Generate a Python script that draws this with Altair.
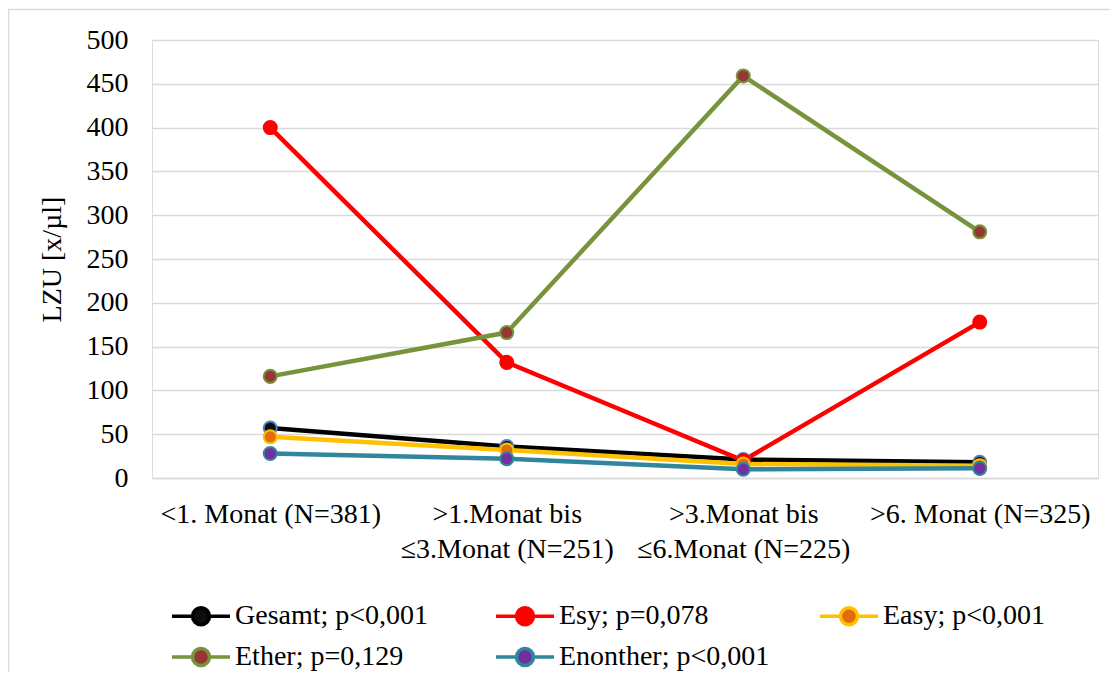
import altair as alt
import pandas as pd

categories = ["<1. Monat (N=381)", ">1.Monat bis|≤3.Monat (N=251)",
              ">3.Monat bis|≤6.Monat (N=225)", ">6. Monat (N=325)"]
series = ["Gesamt; p<0,001", "Esy; p=0,078", "Easy; p<0,001",
          "Ether; p=0,129", "Enonther; p<0,001"]
gesamt = [57, 36, 21, 18]
esy = [400, 132, 20, 178]
easy = [47, 32, 16, 14]
ether = [116, 166, 459, 281]
enonther = [28, 22, 10, 11]
y_ticks = list(range(0, 501, 50))

line_colors = ["#000000", "#FF0000", "#FFC000", "#77933C", "#31859C"]
marker_fills = ["#0D0D0D", "#FF0000", "#E36C09", "#953735", "#7030A0"]

rows = []
for s, vals in zip(series, [gesamt, esy, easy, ether, enonther]):
    for c, v in zip(categories, vals):
        rows.append({"series": s, "cat": c, "value": v})
df = pd.DataFrame(rows)

FONT = "Liberation Serif"
W, H = 946, 438

sym_path = ("M-2.9,0L-0.85,0M0.85,0L2.9,0M-0.85,0"
            "A0.85,0.85,0,1,1,0.85,0A0.85,0.85,0,1,1,-0.85,0Z")

legend = alt.Legend(
    title=None, orient="none", legendX=35, legendY=562,
    direction="horizontal", columns=3, gridAlign="all",
    symbolType=sym_path, symbolSize=400, symbolStrokeWidth=3.5,
    labelFont=FONT, labelFontSize=28, labelColor="black",
    labelOffset=20, columnPadding=43, rowPadding=9, labelLimit=400,
)

x_enc = alt.X("cat:N", sort=categories, title=None,
              scale=alt.Scale(type="point", padding=0.5),
              axis=alt.Axis(labelExpr="split(datum.label, '|')",
                            labelAngle=0, labelFont=FONT, labelFontSize=28,
                            labelColor="black", labelLimit=400,
                            labelLineHeight=35, labelPadding=22,
                            labelOverlap=False, ticks=False,
                            domainColor="#d9d9d9", domainWidth=1.5,
                            grid=False))
y_enc = alt.Y("value:Q", title="LZU [x/µl]",
              scale=alt.Scale(domain=[0, 500], nice=False),
              axis=alt.Axis(values=y_ticks, labelFont=FONT, labelFontSize=28,
                            labelColor="black", labelPadding=24, ticks=False,
                            domain=False, gridColor="#d9d9d9", gridWidth=1.5,
                            titleFont=FONT, titleFontSize=28,
                            titleFontWeight="normal", titleColor="black",
                            titlePadding=20))

stroke_scale = alt.Scale(domain=series, range=line_colors)
fill_scale = alt.Scale(domain=series, range=marker_fills)

base = alt.Chart(df)
lines = base.mark_line(strokeWidth=4.5).encode(
    x=x_enc, y=y_enc,
    stroke=alt.Stroke("series:N", scale=stroke_scale, sort=series, legend=legend),
    detail="series:N",
)
points = base.mark_point(filled=False, size=170, strokeWidth=2, opacity=1).encode(
    x=x_enc, y=y_enc,
    fill=alt.Fill("series:N", scale=fill_scale, sort=series, legend=legend),
    stroke=alt.condition(alt.datum.series == "Gesamt; p<0,001",
                         alt.value("#4F81BD"),
                         alt.Stroke("series:N", scale=stroke_scale, sort=series,
                                    legend=legend)),
)

frame = alt.Chart(pd.DataFrame({"a": [0]})).mark_rect(
    fill=None, stroke="#d9d9d9", strokeWidth=1.5).encode(
    x=alt.value(-143.5), x2=alt.value(W + 60),
    y=alt.value(-30.5), y2=alt.value(H + 400),
)

chart = alt.layer(frame, lines, points).properties(
    width=W, height=H,
    autosize=alt.AutoSizeParams(type="none"),
    padding={"left": 144, "top": 32, "right": 12, "bottom": 194},
).configure_view(stroke=None).configure(background="white")

chart.save("out.html", embed_options={"renderer": "svg", "actions": False})
